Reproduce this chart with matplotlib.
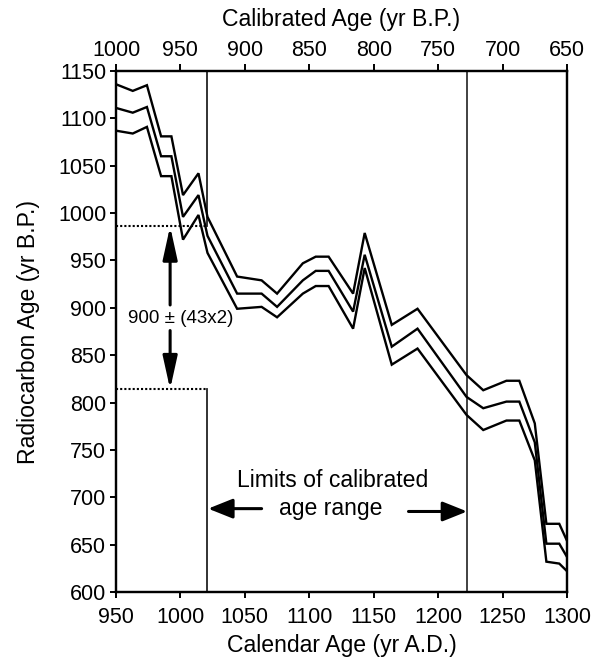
import matplotlib
matplotlib.use("Agg")
import matplotlib.pyplot as plt

plt.rcParams['font.family'] = ['Liberation Sans', 'DejaVu Sans']

# Calendar age (yr A.D.) of curve vertices
cal_ad = [950, 963, 974, 985, 993, 1002, 1014, 1021, 1044, 1063, 1075, 1095, 1105,
          1115, 1134, 1143, 1164, 1184, 1222, 1235, 1253, 1263, 1275, 1284, 1294, 1300]
# Radiocarbon age (yr B.P.): upper, mean, lower curves
c14_upper = [1136, 1129, 1135, 1081, 1081, 1019, 1042, 996, 933, 929, 915, 947, 954,
             954, 915, 979, 882, 899, 829, 813, 823, 823, 778, 672, 672, 654]
c14_mean = [1111, 1106, 1112, 1060, 1060, 996, 1019, 976, 915, 915, 901, 929, 939,
            939, 896, 956, 859, 878, 806, 794, 801, 801, 758, 651, 651, 637]
c14_lower = [1087, 1084, 1091, 1039, 1039, 972, 998, 958, 899, 901, 890, 915, 923,
             923, 878, 942, 840, 857, 787, 771, 781, 781, 739, 632, 630, 622]

# Measured date and 2-sigma bounds
date_bp = 900
err2 = 86
range_lo_ad = 1021
range_hi_ad = 1222.5

xticks = [950, 1000, 1050, 1100, 1150, 1200, 1250, 1300]
yticks = [600, 650, 700, 750, 800, 850, 900, 950, 1000, 1050, 1100, 1150]
top_ticks = [1000, 950, 900, 850, 800, 750, 700, 650]

fig = plt.figure(figsize=(5.98, 6.59), dpi=100)
ax = fig.add_axes([116/598, 1-592/659, (567-116)/598, (592-71)/659])

for ys in (c14_upper, c14_mean, c14_lower):
    ax.plot(cal_ad, ys, color='black', lw=1.7, solid_joinstyle='miter', zorder=3)

ax.set_xlim(950, 1300)
ax.set_ylim(600, 1150)
ax.set_xticks(xticks)
ax.set_yticks(yticks)
ax.tick_params(axis='both', direction='out', length=4, width=1.4, labelsize=15.5, pad=3)
ax.tick_params(axis='x', pad=7)
for s in ax.spines.values():
    s.set_linewidth(1.6)

ax.set_xlabel('Calendar Age (yr A.D.)', fontsize=16.6, labelpad=4)
ax.set_ylabel('Radiocarbon Age (yr B.P.)', fontsize=16.6, labelpad=13)

top = ax.twiny()
top.set_xlim(1950 - 950, 1950 - 1300)
top.set_xticks(top_ticks)
top.tick_params(axis='x', direction='out', length=5, width=1.4, labelsize=15.5, pad=2)
top.set_xlabel('Calibrated Age (yr B.P.)', fontsize=16.6, labelpad=10)
for s in top.spines.values():
    s.set_linewidth(1.6)

# limits of the calibrated age range
ax.plot([range_lo_ad, range_lo_ad], [1150, date_bp + err2], color='#222222', lw=1.3)
ax.plot([range_lo_ad, range_lo_ad], [600, date_bp - err2], color='#222222', lw=1.3)
ax.plot([range_hi_ad, range_hi_ad], [600, 1150], color='#333333', lw=1.3)

# 2-sigma bounds (dotted)
ax.plot([950, range_lo_ad], [date_bp + err2] * 2, color='black', lw=1.5, ls=(0, (1, 1)))
ax.plot([950, range_lo_ad], [date_bp - err2] * 2, color='black', lw=1.5, ls=(0, (1, 1)))

# double arrow with label
arr = dict(arrowstyle='-|>,head_length=1.0,head_width=0.22', color='black', lw=2.2,
           mutation_scale=20, shrinkA=0, shrinkB=0)
ax.annotate('', xy=(992, date_bp + err2), xytext=(992, 903), arrowprops=arr)
ax.annotate('', xy=(992, date_bp - err2), xytext=(992, 876), arrowprops=arr)
ax.text(1000, 889, '900 ± (43x2)', fontsize=13.5, ha='center', va='center')

# horizontal arrows for limits
harr = dict(arrowstyle='-|>,head_length=0.75,head_width=0.3', color='black', lw=2.2,
            mutation_scale=20, shrinkA=0, shrinkB=0)
ax.annotate('', xy=(range_lo_ad + 0.5, 688), xytext=(1063, 688), arrowprops=harr)
ax.annotate('', xy=(range_hi_ad, 685), xytext=(1177, 685), arrowprops=harr)
ax.text(1118, 718, 'Limits of calibrated', fontsize=16.6, ha='center', va='center')
ax.text(1117, 688, 'age range', fontsize=16.6, ha='center', va='center')

fig.savefig('out.png', dpi=100)
